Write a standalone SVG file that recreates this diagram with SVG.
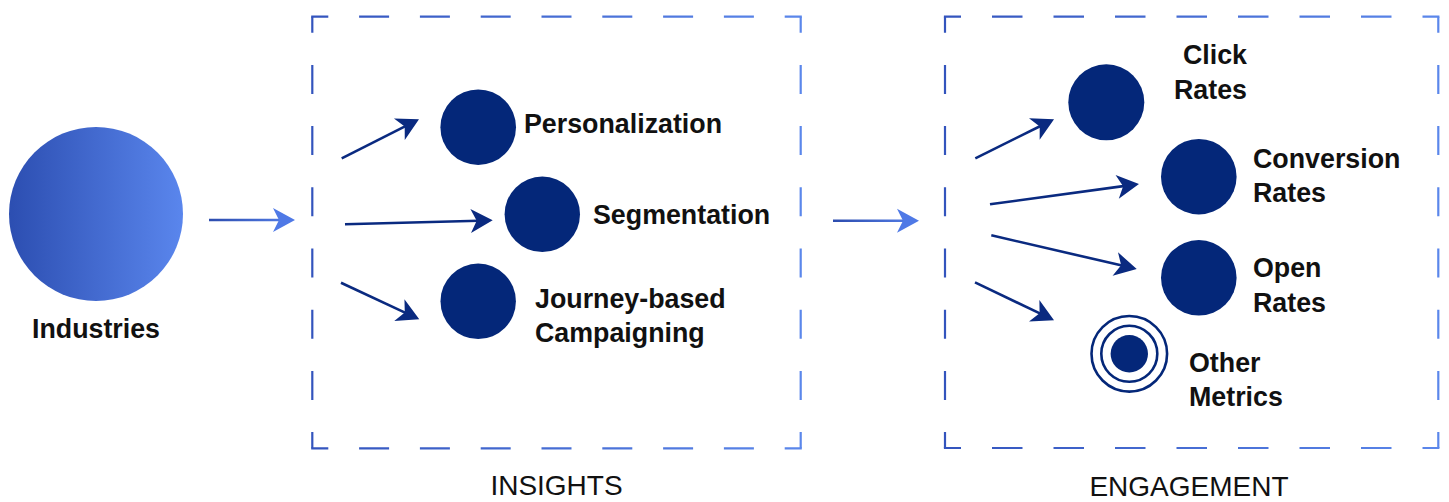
<svg xmlns="http://www.w3.org/2000/svg" width="1449" height="502" viewBox="0 0 1449 502">
<style>
.lbl{font-family:"Liberation Sans",Arial,sans-serif;font-weight:bold;font-size:26.8px;fill:#111}
.title{font-family:"Liberation Sans",Arial,sans-serif;font-size:28px;fill:#111;text-anchor:middle}
.node{fill:#042779}
.dark{stroke:#0a2a80;stroke-width:2.6;fill:none;marker-end:url(#headDark)}
.light{stroke-width:2.6;fill:none;marker-end:url(#headLight)}
.dh{stroke-width:2.2;fill:none}
</style>
<defs>
<linearGradient id="indGrad" x1="0" y1="0" x2="1" y2="0">
<stop offset="0" stop-color="#2c4eb1"/>
<stop offset="1" stop-color="#5a86ed"/>
</linearGradient>
<linearGradient id="gIns" gradientUnits="userSpaceOnUse" x1="311" y1="0" x2="802" y2="0">
<stop offset="0" stop-color="#3354bd"/>
<stop offset="1" stop-color="#5b87eb"/>
</linearGradient>
<linearGradient id="gEng" gradientUnits="userSpaceOnUse" x1="944" y1="0" x2="1440" y2="0">
<stop offset="0" stop-color="#3354bd"/>
<stop offset="1" stop-color="#5b87eb"/>
</linearGradient>
<linearGradient id="gA1" gradientUnits="userSpaceOnUse" x1="209" y1="0" x2="295" y2="0">
<stop offset="0" stop-color="#2c4cae"/>
<stop offset="1" stop-color="#5580ea"/>
</linearGradient>
<linearGradient id="gA2" gradientUnits="userSpaceOnUse" x1="833" y1="0" x2="919" y2="0">
<stop offset="0" stop-color="#2c4cae"/>
<stop offset="1" stop-color="#5580ea"/>
</linearGradient>
<marker id="headDark" markerUnits="userSpaceOnUse" viewBox="-23 -13 24 26" refX="-14" refY="0" markerWidth="24" markerHeight="26" orient="auto" overflow="visible">
<path d="M0,0 L-22,-12 L-16,0 L-22,12 Z" fill="#0a2a80"/>
</marker>
<marker id="headLight" markerUnits="userSpaceOnUse" viewBox="-23 -13 24 26" refX="-14" refY="0" markerWidth="24" markerHeight="26" orient="auto" overflow="visible">
<path d="M0,0 L-22,-12 L-16,0 L-22,12 Z" fill="#4f79e6"/>
</marker>
</defs>

<g id="insights-box">
<g stroke="url(#gIns)" class="dh">
<line x1="311.2" y1="16.7" x2="801.8" y2="16.7" stroke-dasharray="30 30.8" stroke-dashoffset="12.9"/>
<line x1="311.2" y1="448.3" x2="801.8" y2="448.3" stroke-dasharray="30 30.8" stroke-dashoffset="12.9"/>
<line x1="312.3" y1="16.7" x2="312.3" y2="448.3" stroke-dasharray="29 32.2" stroke-dashoffset="13"/>
<line x1="800.7" y1="16.7" x2="800.7" y2="448.3" stroke-dasharray="29 32.2" stroke-dashoffset="13"/>
</g>
<text class="title" x="556.5" y="495">INSIGHTS</text>
</g>

<g id="engagement-box">
<g stroke="url(#gEng)" class="dh">
<line x1="943.9" y1="16.7" x2="1439.4" y2="16.7" stroke-dasharray="30.5 31" stroke-dashoffset="13.4"/>
<line x1="943.9" y1="448" x2="1439.4" y2="448" stroke-dasharray="30.5 31" stroke-dashoffset="13.4"/>
<line x1="945" y1="16.7" x2="945" y2="448" stroke-dasharray="29 32.2" stroke-dashoffset="13"/>
<line x1="1438.3" y1="16.7" x2="1438.3" y2="448" stroke-dasharray="29 32.2" stroke-dashoffset="13"/>
</g>
<text class="title" x="1189" y="496">ENGAGEMENT</text>
</g>

<g id="industries">
<circle cx="96" cy="214" r="87" fill="url(#indGrad)"/>
<text class="lbl" x="96" y="338" text-anchor="middle">Industries</text>
</g>

<g id="personalization">
<circle class="node" cx="478.2" cy="127.2" r="37.8"/>
<text class="lbl" x="524" y="133">Personalization</text>
</g>
<g id="segmentation">
<circle class="node" cx="542.3" cy="214.3" r="37.7"/>
<text class="lbl" x="593" y="224">Segmentation</text>
</g>
<g id="journey">
<circle class="node" cx="478.2" cy="301.3" r="37.7"/>
<text class="lbl" x="535" y="308">Journey-based</text>
<text class="lbl" x="535" y="342">Campaigning</text>
</g>

<g id="click-rates">
<circle class="node" cx="1106.3" cy="102.3" r="38"/>
<text class="lbl" x="1247" y="64" text-anchor="end">Click</text>
<text class="lbl" x="1247" y="99" text-anchor="end">Rates</text>
</g>
<g id="conversion-rates">
<circle class="node" cx="1198.8" cy="176.7" r="37.8"/>
<text class="lbl" x="1253" y="168">Conversion</text>
<text class="lbl" x="1253" y="202">Rates</text>
</g>
<g id="open-rates">
<circle class="node" cx="1198.8" cy="277.8" r="37.8"/>
<text class="lbl" x="1253" y="276.5">Open</text>
<text class="lbl" x="1253" y="311.5">Rates</text>
</g>
<g id="other-metrics">
<circle cx="1129.3" cy="353.8" r="37.8" fill="none" stroke="#042779" stroke-width="2.6"/>
<circle cx="1129.3" cy="353.8" r="28" fill="none" stroke="#042779" stroke-width="2.6"/>
<circle class="node" cx="1129.3" cy="353.8" r="18.7"/>
<text class="lbl" x="1189" y="372">Other</text>
<text class="lbl" x="1189" y="406">Metrics</text>
</g>

<g id="connectors">
<line class="light" x1="209" y1="220" x2="281" y2="220" stroke="url(#gA1)"/>
<line class="light" x1="833" y1="220.7" x2="905" y2="220.7" stroke="url(#gA2)"/>
<line class="dark" x1="341.7" y1="158.3" x2="406.5" y2="125.6"/>
<line class="dark" x1="345" y1="224.3" x2="478.7" y2="220.7"/>
<line class="dark" x1="341" y1="282.7" x2="406.6" y2="313.4"/>
<line class="dark" x1="975.3" y1="158.3" x2="1041.5" y2="125.5"/>
<line class="dark" x1="990" y1="204.3" x2="1125.1" y2="185.9"/>
<line class="dark" x1="991.3" y1="235.3" x2="1123.1" y2="265.8"/>
<line class="dark" x1="975" y1="282.3" x2="1041.4" y2="314.2"/>
</g>
</svg>
